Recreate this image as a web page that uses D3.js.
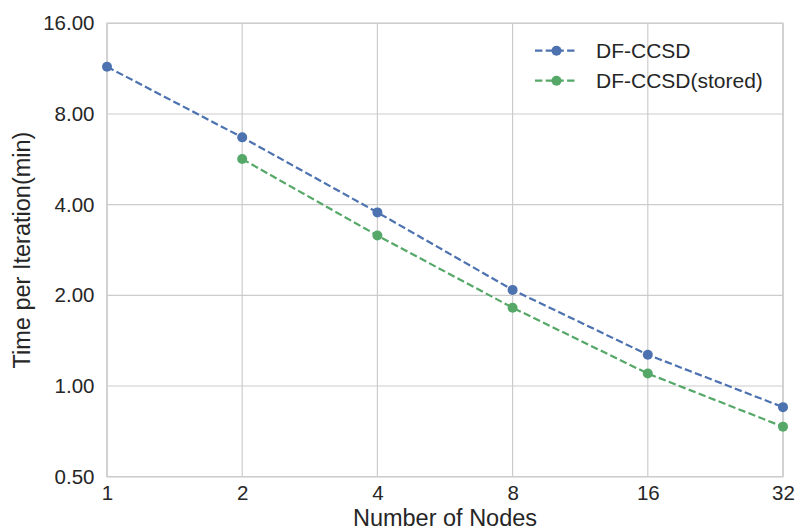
<!DOCTYPE html>
<html>
<head>
<meta charset="utf-8">
<script src="https://cdn.jsdelivr.net/npm/d3@7"></script>
<style>
  html, body { margin: 0; padding: 0; background: #fff; }
  svg { display: block; font-family: Arial, "Liberation Sans", sans-serif; }
</style>
</head>
<body>
<svg id="chart" width="796" height="531"></svg>
<script>
// Node counts and per-iteration timings (minutes)
const nodes = [1, 2, 4, 8, 16, 32];
const dfccsd = [11.48, 6.69, 3.77, 2.085, 1.27, 0.851];
const storedNodes = [2, 4, 8, 16, 32];
const dfccsdStored = [5.67, 3.16, 1.82, 1.10, 0.733];
const yTicks = [0.5, 1, 2, 4, 8, 16];
const seriesNames = ["DF-CCSD", "DF-CCSD(stored)"];
const colors = ["#4C72B0", "#55A868"];

const svg = d3.select("#chart");
const margin = { left: 107, right: 13, top: 23.3, bottom: 54.3 };
const W = 796, H = 531;

const x = d3.scaleLog().base(2).domain([1, 32]).range([margin.left, W - margin.right]);
const y = d3.scaleLog().base(2).domain([0.5, 16]).range([H - margin.bottom, margin.top]);

const grid = "#cccccc";
const textColor = "#262626";
const fontFamily = "Arial, 'Liberation Sans', sans-serif";
const tickFont = 20.5;
const legendFont = 21;
const titleFont = 23.5;

// Grid lines
svg.append("g").selectAll("line").data(nodes).join("line")
  .attr("x1", d => x(d)).attr("x2", d => x(d))
  .attr("y1", y(0.5)).attr("y2", y(16))
  .attr("stroke", grid).attr("stroke-width", 1.2);
svg.append("g").selectAll("line").data(yTicks).join("line")
  .attr("y1", d => y(d)).attr("y2", d => y(d))
  .attr("x1", x(1)).attr("x2", x(32))
  .attr("stroke", grid).attr("stroke-width", 1.2);

// Frame
svg.append("rect")
  .attr("x", x(1)).attr("y", y(16))
  .attr("width", x(32) - x(1)).attr("height", y(0.5) - y(16))
  .attr("fill", "none").attr("stroke", grid).attr("stroke-width", 1.4);

// Axes (labels only, no tick marks)
const xAxis = d3.axisBottom(x).tickValues(nodes).tickFormat(d3.format("d")).tickSize(0).tickPadding(9);
const gx = svg.append("g").attr("transform", `translate(0,${y(0.5)})`).call(xAxis);
gx.select(".domain").remove();
gx.selectAll("text").attr("font-size", tickFont).attr("fill", textColor).attr("font-family", fontFamily);

const yAxis = d3.axisLeft(y).tickValues(yTicks).tickFormat(d3.format(".2f")).tickSize(0).tickPadding(12.5);
const gy = svg.append("g").attr("transform", `translate(${x(1)},0)`).call(yAxis);
gy.select(".domain").remove();
gy.selectAll("text").attr("font-size", tickFont).attr("fill", textColor).attr("font-family", fontFamily);

// Axis titles
svg.append("text")
  .attr("x", (x(1) + x(32)) / 2).attr("y", 526)
  .attr("text-anchor", "middle").attr("font-size", titleFont).attr("fill", textColor)
  .text("Number of Nodes");
svg.append("text")
  .attr("transform", `translate(30,${(y(0.5) + y(16)) / 2}) rotate(-90)`)
  .attr("text-anchor", "middle").attr("font-size", titleFont).attr("fill", textColor)
  .text("Time per Iteration(min)");

// Series
const series = [
  nodes.map((n, i) => ({ n, v: dfccsd[i] })),
  storedNodes.map((n, i) => ({ n, v: dfccsdStored[i] }))
];
const line = d3.line().x(d => x(d.n)).y(d => y(d.v));

series.forEach((s, k) => {
  svg.append("path").datum(s)
    .attr("d", line).attr("fill", "none")
    .attr("stroke", colors[k]).attr("stroke-width", 2.2)
    .attr("stroke-dasharray", "7.4,3.3");
  svg.append("g").selectAll("circle").data(s).join("circle")
    .attr("cx", d => x(d.n)).attr("cy", d => y(d.v)).attr("r", 5)
    .attr("fill", colors[k]);
});

// Legend
const legend = svg.append("g");
seriesNames.forEach((name, k) => {
  const ly = 50.7 + k * 30;
  legend.append("line")
    .attr("x1", 535).attr("x2", 577).attr("y1", ly).attr("y2", ly)
    .attr("stroke", colors[k]).attr("stroke-width", 2.2)
    .attr("stroke-dasharray", "7.4,3.3");
  legend.append("circle").attr("cx", 556.5).attr("cy", ly).attr("r", 5).attr("fill", colors[k]);
  legend.append("text")
    .attr("x", 596).attr("y", ly).attr("dy", "0.35em")
    .attr("font-size", legendFont).attr("fill", textColor)
    .text(name);
});
</script>
</body>
</html>
